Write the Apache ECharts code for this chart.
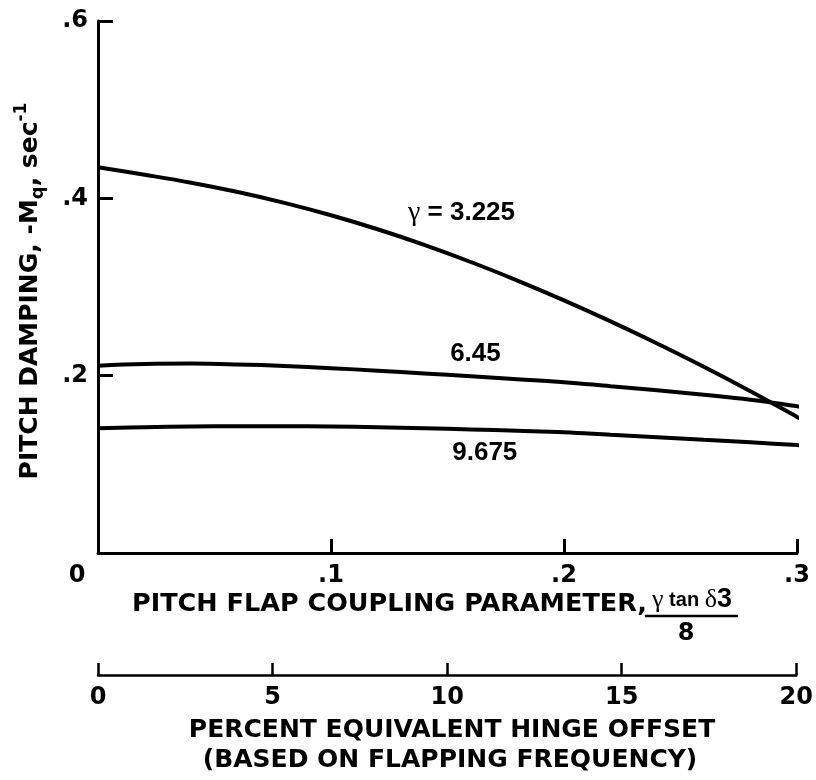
<!DOCTYPE html>
<html><head><meta charset="utf-8">
<script src="https://cdn.jsdelivr.net/npm/echarts@6/dist/echarts.min.js"></script>
<style>html,body{margin:0;padding:0;background:#fff}#c{width:816px;height:780px}</style>
</head><body><div id="c"></div>
<script>
const FONT = '"DejaVu Sans", Verdana, sans-serif';
const LFONT = '"Liberation Sans", Arial, Helvetica, sans-serif';
const SERIF = '"Liberation Serif", "DejaVu Serif", serif';

// Pitch flap coupling parameter (x) vs pitch damping -Mq (y)
const coupling_x = [0, 0.02, 0.04, 0.06, 0.08, 0.10, 0.12, 0.14, 0.16, 0.18, 0.20, 0.22, 0.24, 0.26, 0.28, 0.30, 0.306];
const gamma3225_y = [0.435, 0.4266, 0.4176, 0.4071, 0.3949, 0.3809, 0.3651, 0.3475, 0.3282, 0.3073, 0.2850, 0.2613, 0.2363, 0.2100, 0.1824, 0.1535, 0.1447];
const gamma645_y = [0.2113, 0.2132, 0.2136, 0.2127, 0.2110, 0.2085, 0.2056, 0.2025, 0.1993, 0.1960, 0.1927, 0.1881, 0.1836, 0.1785, 0.1729, 0.1655, 0.1627];
const gamma9675_y = [0.1407, 0.1418, 0.1426, 0.1429, 0.1429, 0.1426, 0.1418, 0.1407, 0.1394, 0.1379, 0.1362, 0.1333, 0.1305, 0.1277, 0.1249, 0.1217, 0.1209];

const couplingTicks = [0, 0.1, 0.2, 0.3];
const couplingTickLabels = ['0', '.1', '.2', '.3'];
const dampingTicks = [0, 0.2, 0.4, 0.6];
const dampingTickLabels = ['', '.2', '.4', '.6'];
const hingeTicks = [0, 5, 10, 15, 20];
const hingeTickLabels = ['0', '5', '10', '15', '20'];

const curveNames = ['γ = 3.225', '6.45', '9.675'];
const curveLabelX = [0.156, 0.162, 0.166];
const curveLabelY = [0.384, 0.225, 0.113];

function pairs(xs, ys) { return xs.map((x, i) => [x, ys[i]]); }
function lookup(ticks, labels, v) {
  for (let i = 0; i < ticks.length; i++) if (Math.abs(ticks[i] - v) < 1e-9) return labels[i];
  return '';
}

const chart = echarts.init(document.getElementById('c'), null, { renderer: 'canvas' });

const lineSeries = (name, data) => ({
  type: 'line', name, data, xAxisIndex: 0, yAxisIndex: 0,
  smooth: 0.4, symbol: 'none', clip: false,
  lineStyle: { color: '#000', width: 4 }
});

const option = {
  backgroundColor: '#fff',
  animation: false,
  grid: [
    { left: 98, right: 19, top: 21, bottom: 227 },
    { left: 98, right: 18, top: 674, height: 1 }
  ],
  xAxis: [
    {
      type: 'value', gridIndex: 0, min: 0, max: 0.3, interval: 0.1,
      axisLine: { show: true, lineStyle: { color: '#000', width: 3 } },
      axisTick: { show: true, inside: true, length: 14, lineStyle: { color: '#000', width: 3 } },
      splitLine: { show: false },
      axisLabel: {
        margin: 11, color: '#000', fontFamily: FONT, fontWeight: 'bold', fontSize: 24,
        formatter: v => {
          const t = lookup(couplingTicks, couplingTickLabels, v);
          return v === 0 ? '{z|' + t + '}' : t;
        },
        rich: { z: { fontFamily: FONT, fontWeight: 'bold', fontSize: 24, color: '#000', padding: [0, 42, 0, 0] } }
      }
    },
    {
      type: 'value', gridIndex: 1, min: 0, max: 20, interval: 5, position: 'bottom',
      axisLine: { show: true, onZero: false, lineStyle: { color: '#000', width: 2.5 } },
      axisTick: { show: true, inside: true, length: 12, lineStyle: { color: '#000', width: 2.5 } },
      splitLine: { show: false },
      axisLabel: {
        margin: 11, color: '#000', fontFamily: FONT, fontWeight: 'bold', fontSize: 24,
        formatter: v => lookup(hingeTicks, hingeTickLabels, v)
      }
    }
  ],
  yAxis: [
    {
      type: 'value', gridIndex: 0, min: 0, max: 0.6, interval: 0.2,
      axisLine: { show: true, lineStyle: { color: '#000', width: 3 } },
      axisTick: { show: true, inside: true, length: 15, lineStyle: { color: '#000', width: 3 } },
      splitLine: { show: false },
      axisLabel: {
        margin: 10, color: '#000', fontFamily: FONT, fontWeight: 'bold', fontSize: 24,
        formatter: v => lookup(dampingTicks, dampingTickLabels, v)
      }
    },
    { type: 'value', gridIndex: 1, show: false, min: 0, max: 1 }
  ],
  series: [
    lineSeries(curveNames[0], pairs(coupling_x, gamma3225_y)),
    lineSeries(curveNames[1], pairs(coupling_x, gamma645_y)),
    lineSeries(curveNames[2], pairs(coupling_x, gamma9675_y))
  ]
};
chart.setOption(option);

// Text annotations
const g = [];
curveNames.forEach((name, i) => {
  const p = chart.convertToPixel({ gridIndex: 0 }, [curveLabelX[i], curveLabelY[i]]);
  const txt = i === 0 ? '{g|γ}{b| = 3.225}' : '{b|' + name + '}';
  g.push({
    type: 'text', x: p[0], y: p[1],
    style: {
      text: txt, align: 'center', verticalAlign: 'middle',
      rich: {
        g: { fontFamily: SERIF, fontSize: 28, color: '#000' },
        b: { fontFamily: LFONT, fontWeight: 'bold', fontSize: 26, color: '#000' }
      }
    }
  });
});

// Y axis title (rotated)
g.push({
  type: 'text', x: 30, y: 291, rotation: Math.PI / 2,
  style: {
    text: '{a|PITCH DAMPING, -M}{s|q}{a|, sec}{p|-1}',
    align: 'center', verticalAlign: 'middle',
    rich: {
      a: { fontFamily: FONT, fontWeight: 'bold', fontSize: 25, color: '#000', lineHeight: 34, verticalAlign: 'middle' },
      s: { fontFamily: FONT, fontWeight: 'bold', fontSize: 18, color: '#000', lineHeight: 34, verticalAlign: 'bottom' },
      p: { fontFamily: FONT, fontWeight: 'bold', fontSize: 17, color: '#000', lineHeight: 34, verticalAlign: 'top' }
    }
  }
});

// X axis title
g.push({
  type: 'text', x: 132, y: 604,
  style: { text: 'PITCH FLAP COUPLING PARAMETER,', align: 'left', verticalAlign: 'middle',
    font: 'bold 25.5px ' + FONT, fill: '#000' }
});
g.push({
  type: 'text', x: 692, y: 600,
  style: {
    text: '{g|γ}{t| tan }{g|δ}{b|3}', align: 'center', verticalAlign: 'middle',
    rich: {
      g: { fontFamily: SERIF, fontSize: 26, color: '#000' },
      t: { fontFamily: LFONT, fontWeight: 'bold', fontSize: 20, color: '#000' },
      b: { fontFamily: LFONT, fontWeight: 'bold', fontSize: 27, color: '#000' }
    }
  }
});
g.push({ type: 'line', shape: { x1: 645, y1: 616, x2: 738, y2: 616 }, style: { stroke: '#000', lineWidth: 2.5 } });
g.push({
  type: 'text', x: 686, y: 634,
  style: { text: '8', align: 'center', verticalAlign: 'middle', font: 'bold 24px ' + FONT, fill: '#000' }
});

// Second axis titles
g.push({
  type: 'text', x: 452, y: 730,
  style: { text: 'PERCENT EQUIVALENT HINGE OFFSET', align: 'center', verticalAlign: 'middle',
    font: 'bold 25px ' + FONT, fill: '#000' }
});
g.push({
  type: 'text', x: 450, y: 760,
  style: { text: '(BASED ON FLAPPING FREQUENCY)', align: 'center', verticalAlign: 'middle',
    font: 'bold 25px ' + FONT, fill: '#000' }
});

chart.setOption({ graphic: g });
</script>
</body></html>
